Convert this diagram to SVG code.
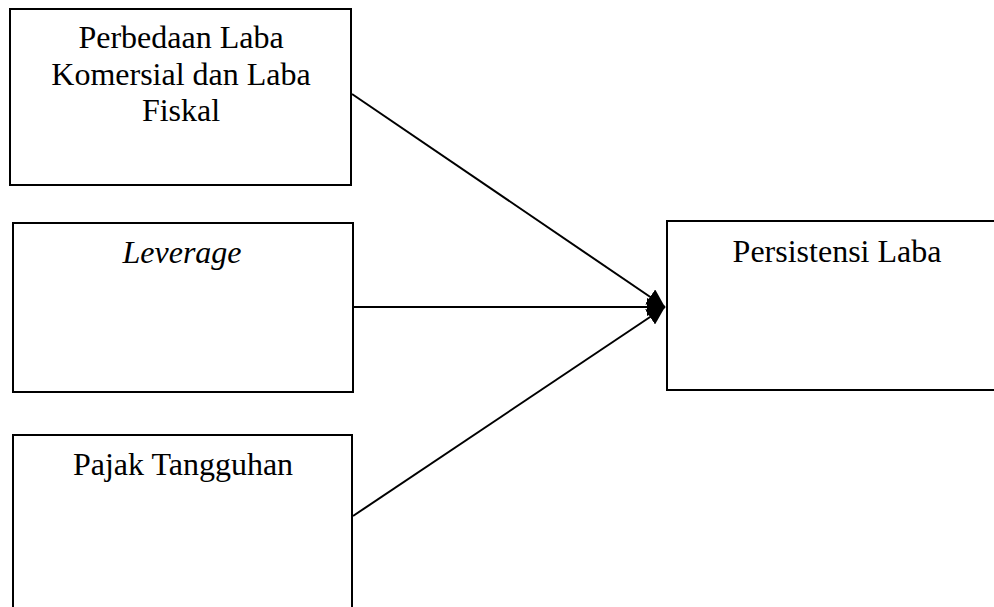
<svg xmlns="http://www.w3.org/2000/svg" width="994" height="607" viewBox="0 0 994 607">
<style>
.box{fill:#fff;stroke:#000;stroke-width:2}
.t{font-family:"Liberation Serif","Times New Roman",serif;font-size:32px;fill:#000;text-anchor:middle}
.c{stroke:#000;stroke-width:2;fill:none}
</style>
<defs>
<marker id="ah" viewBox="0 0 10 10" refX="10" refY="5" markerWidth="18" markerHeight="18" markerUnits="userSpaceOnUse" orient="auto">
<path d="M0,0 L10,5 L0,10 z" fill="#000"/>
</marker>
</defs>
<rect width="994" height="607" fill="#fff"/>
<g id="n1">
<rect class="box" x="10" y="9" width="341" height="176"/>
<text class="t" x="181" y="48">Perbedaan Laba</text>
<text class="t" x="181" y="85">Komersial dan Laba</text>
<text class="t" x="181" y="121">Fiskal</text>
</g>
<g id="n2">
<rect class="box" x="13" y="223" width="340" height="169"/>
<text class="t" x="182" y="263" font-style="italic">Leverage</text>
</g>
<g id="n3">
<rect class="box" x="13" y="435" width="339" height="180"/>
<text class="t" x="183" y="475">Pajak Tangguhan</text>
</g>
<g id="n4">
<rect class="box" x="667" y="221" width="340" height="169"/>
<text class="t" x="837" y="262">Persistensi Laba</text>
</g>
<g id="connectors">
<line class="c" x1="352" y1="94" x2="665" y2="307" marker-end="url(#ah)"/>
<line class="c" x1="353" y1="307" x2="665" y2="307" stroke-width="1" marker-end="url(#ah)"/>
<line class="c" x1="353" y1="516" x2="665" y2="307" marker-end="url(#ah)"/>
</g>
</svg>
